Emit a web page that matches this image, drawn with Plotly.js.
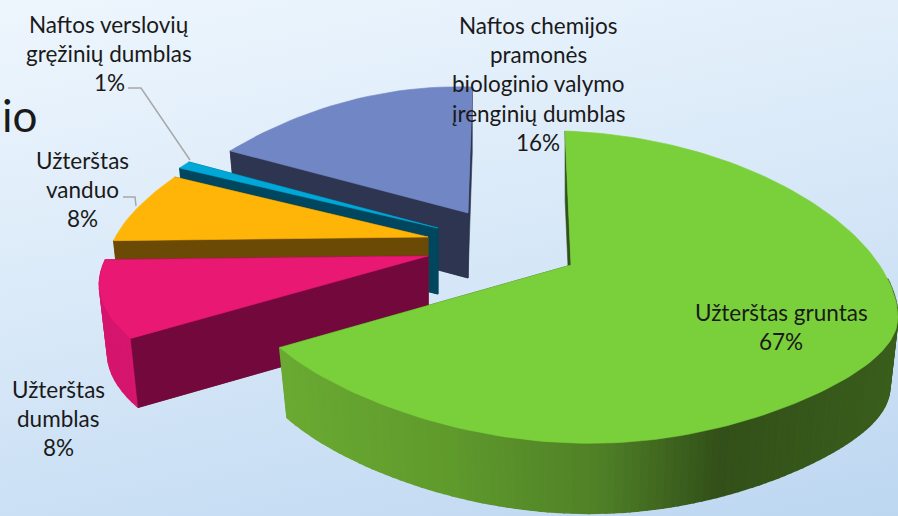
<!DOCTYPE html>
<html>
<head>
<meta charset="utf-8">
<script src="https://cdn.plot.ly/plotly-3.0.1.min.js"></script>
<style>
html,body{margin:0;padding:0;width:898px;height:516px;overflow:hidden;
background:linear-gradient(168deg,#eef6fd 0%,#dcebf9 40%,#bdd7f1 100%);}
#c{width:898px;height:516px;}
</style>
</head>
<body>
<div id="c"></div>
<script>
// Data (clockwise from 12 o'clock)
const categories = [
  "Užterštas gruntas",
  "Užterštas dumblas",
  "Užterštas vanduo",
  "Naftos verslovių gręžinių dumblas",
  "Naftos chemijos pramonės biologinio valymo įrenginių dumblas"
];
const values = [67, 8, 8, 1, 16];
const labelLines = [
  ["Užterštas gruntas"],
  ["Užterštas", "dumblas"],
  ["Užterštas", "vanduo"],
  ["Naftos verslovių", "gręžinių dumblas"],
  ["Naftos chemijos", "pramonės", "biologinio valymo", "įrenginių dumblas"]
];

// Styling and placement
const topColors  = ["#7ad03a", "#e91873", "#ffb508", "#00a8d8", "#7186c5"];
const wallColors = ["#33521a", "#72083c", "#6a4a04", "#00465e", "#2d3550"];
const rimColors  = [null, "#d5156e", null, null, null];
const apexes = [[571,265],[428,256],[428,237],[438,228],[468,213]];
const depths = [70,69,69,66,65];
const radiiX = [0.985,1.005,0.98,1,0.965];
const radiiY = [1,1,1,1,0.94];
const topShift = [-6,0,0,0,4];
const labelPos = [[781,312],[58,389],[82,160],[109,24],[538,25]];
const lineStep = 29.4;
const drawOrder = [4,3,2,1,0];
const greenStops = [[280,[106,170,50]],[450,[95,154,44]],[600,[79,128,38]],[720,[50,80,25]],[898,[58,94,28]]];

function rim(phi,i){ // offset of a rim point from the slice apex, in plot units
  const d = phi + 12*Math.exp(-Math.pow((phi-280)/35,2));
  const t = d*Math.PI/180, s=Math.sin(t), c=Math.cos(t);
  const g = d<90 ? 0 : (d<180 ? 40 : 30);
  // the right-hand side of the large slice reaches the window edge
  const xr = s>0 ? 327 : 327*radiiX[i];
  const x = xr*s + topShift[i]*Math.max(0,c);
  const y = 31 - 156*c + 11.5*s - 9*Math.cos(2*t) + g*s*s*c;
  return [x, y*radiiY[i]];
}
function greenAt(x){
  for(let i=1;i<greenStops.length;i++){
    const a=greenStops[i-1], b=greenStops[i];
    if(x<=b[0]){
      const f=Math.max(0,(x-a[0])/(b[0]-a[0]));
      const c=a[1].map((v,k)=>Math.round(v+(b[1][k]-v)*f));
      return `rgb(${c.join(",")})`;
    }
  }
  const l=greenStops[greenStops.length-1][1];
  return `rgb(${l.join(",")})`;
}
function poly(xs,ys,color,w){
  return {type:"scatter",mode:"lines",x:xs.concat(xs[0]),y:ys.concat(ys[0]),fill:"toself",
    fillcolor:color,line:{width:w===undefined?0.6:w,color:color},hoverinfo:"skip",showlegend:false};
}
const total = values.reduce((a,b)=>a+b,0);
const starts=[]; let acc=0;
values.forEach(v=>{starts.push(acc/total*360); acc+=v;});
const shrink=0.975; // the lower face of a slice is slightly narrower

const traces=[];
drawOrder.forEach(i=>{
  const a0=starts[i], a1=a0+values[i]/total*360, ap=apexes[i], dp=depths[i];
  const n=Math.max(4,Math.round((a1-a0)/(i===0?1.5:2)));
  const pts=[], phis=[];
  for(let k=0;k<=n;k++){
    const ph=a0+(a1-a0)*k/n, r=rim(ph,i);
    phis.push(ph);
    pts.push([ap[0]+r[0],ap[1]+r[1]]);
  }
  const low=p=>[ap[0]+(p[0]-ap[0])*shrink,p[1]+dp];
  // the two cut walls
  const first=pts[0], last=pts[n];
  [first,last].forEach(e=>{
    const b=low(e);
    traces.push(poly([e[0],ap[0],ap[0],b[0]],[e[1],ap[1],ap[1]+dp,b[1]],wallColors[i]));
  });
  // outer wall in strips, only on the part that faces the viewer
  if(i===0||i===1){
    for(let k=0;k<n;k++){
      if(i===0&&phis[k]<75) continue;
      const p=pts[k],q=pts[k+1],pl=low(p),ql=low(q);
      const col=i===0?greenAt((p[0]+q[0])/2):rimColors[i];
      traces.push(poly([p[0],q[0],ql[0],pl[0]],[p[1],q[1],ql[1],pl[1]],col,1.6));
    }
  }
  // front cut wall again, above the strips' outline
  if(i!==0){
    const b=low(first);
    traces.push(poly([first[0],ap[0],ap[0],b[0]],[first[1],ap[1],ap[1]+dp,b[1]],wallColors[i]));
  }
  // top face
  traces.push(poly([ap[0]].concat(pts.map(p=>p[0])),[ap[1]].concat(pts.map(p=>p[1])),topColors[i]));
});

// leader lines
const leaderColor="#a8a8a8";
traces.push({type:"scatter",mode:"lines",x:[128,141,190],y:[88,88,160],line:{color:leaderColor,width:1.5},hoverinfo:"skip",showlegend:false});
traces.push({type:"scatter",mode:"lines",x:[123,135,136],y:[197,197,206],line:{color:leaderColor,width:1.5},hoverinfo:"skip",showlegend:false});

const font={family:"Lato, 'Open Sans', sans-serif",size:22.5,color:"#1a1a1a"};
const annotations=[];
labelLines.forEach((lines,i)=>{
  const all=lines.concat(values[i]+"%");
  all.forEach((t,k)=>{
    annotations.push({xref:"x",yref:"y",x:labelPos[i][0],y:labelPos[i][1]+k*lineStep,text:t,
      showarrow:false,xanchor:"center",yanchor:"middle",font:font});
  });
});
annotations.push({xref:"x",yref:"y",x:20,y:115,text:"io",showarrow:false,xanchor:"center",yanchor:"middle",
  font:{family:"Lato, sans-serif",size:44,color:"#1a1a1a"}});

Plotly.newPlot("c",traces,{
  width:898,height:516,margin:{l:0,r:0,t:0,b:0},
  paper_bgcolor:"rgba(0,0,0,0)",plot_bgcolor:"rgba(0,0,0,0)",showlegend:false,hovermode:false,
  xaxis:{range:[0,898],visible:false,fixedrange:true},
  yaxis:{range:[516,0],visible:false,fixedrange:true},
  annotations:annotations
},{displayModeBar:false,staticPlot:true});
</script>
</body>
</html>
